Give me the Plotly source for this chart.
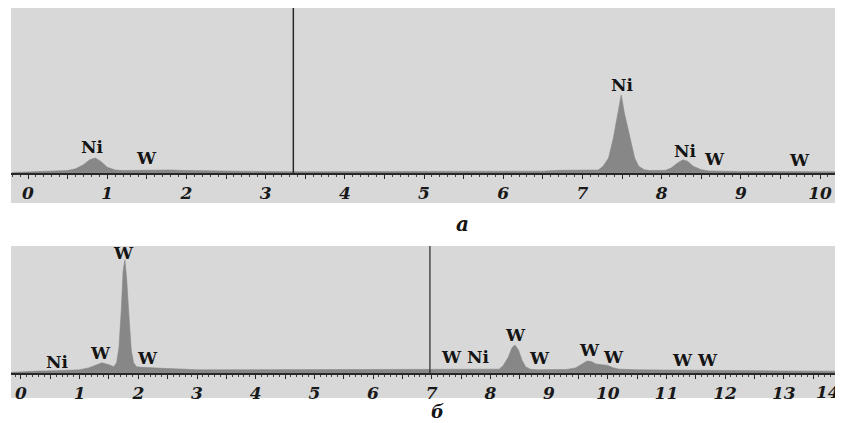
import plotly.graph_objects as go

# ---------------- data ----------------
energy_a = [-0.2, 0.0, 0.2, 0.4, 0.5, 0.6, 0.7, 0.78, 0.85, 0.92,
            1.0, 1.1, 1.2, 1.4, 1.6, 1.8, 2.0, 2.2, 2.4, 2.6,
            3.0, 3.5, 4.0, 4.5, 5.0, 5.5, 6.0, 6.5, 6.7, 7.0,
            7.2, 7.26, 7.33, 7.39, 7.44, 7.49, 7.53, 7.6, 7.66, 7.71,
            7.78, 7.85, 7.95, 8.05, 8.12, 8.2, 8.27, 8.33, 8.4, 8.5,
            8.6, 8.8, 9.0, 9.5, 9.8, 10.0, 10.3]
counts_a = [0.3, 0.6, 0.8, 1.0, 1.5, 2.5, 5, 8, 9, 7,
            3.5, 1.8, 1.5, 1.6, 1.8, 1.8, 1.5, 1.3, 1.2, 1.0,
            0.9, 0.8, 0.8, 0.8, 0.9, 0.9, 1.0, 1.1, 1.6, 1.6,
            1.8, 4, 9, 21, 34, 47, 36, 21, 9, 4,
            2, 1.5, 1.4, 1.6, 3, 6, 8, 7, 4, 2,
            1.2, 1.0, 0.9, 0.9, 1.0, 0.8, 0.7]

energy_b = [-0.17, 0.0, 0.3, 0.6, 0.85, 1.0, 1.15, 1.25, 1.38, 1.5,
            1.58, 1.63, 1.67, 1.71, 1.74, 1.77, 1.80, 1.84, 1.88, 1.92,
            1.97, 2.05, 2.2, 2.5, 2.8, 3.0, 3.5, 4.0, 5.0, 6.0,
            6.5, 7.0, 7.5, 8.0, 8.15, 8.22, 8.3, 8.37, 8.42, 8.48,
            8.54, 8.6, 8.68, 8.8, 9.0, 9.3, 9.45, 9.55, 9.65, 9.72,
            9.8, 9.9, 10.0, 10.1, 10.2, 10.5, 11.0, 11.3, 11.7, 12.0,
            13.0, 14.0]
counts_b = [0.5, 1.0, 1.5, 1.8, 2.5, 2.5, 4, 5.5, 8, 6.5,
            5, 8, 20, 50, 80, 89, 75, 45, 18, 8,
            5, 4.5, 4, 3.5, 3.0, 2.5, 2.5, 2.5, 2.5, 2.5,
            2.8, 2.5, 2.5, 2.5, 3, 6, 12, 20, 22, 18,
            10, 5, 3, 2.5, 2.5, 2.8, 4, 7, 9.5, 9,
            7, 6.5, 6, 4, 3, 2.5, 2.2, 2.5, 2.2, 2.0,
            1.6, 1.4]

peak_text_a = ["Ni", "W", "Ni", "Ni", "W", "W"]
peak_x_a = [0.81, 1.5, 7.5, 8.3, 8.67, 9.74]
peak_y_a = [15.7, 9.0, 53.0, 13.3, 8.4, 7.8]

peak_text_b = ["Ni", "W", "W", "W", "W", "Ni", "W", "W", "W", "W", "W", "W"]
peak_x_b = [0.63, 1.35, 1.74, 2.15, 7.34, 7.79, 8.42, 8.84, 9.69, 10.1, 11.28, 11.7]
peak_y_b = [8.7, 15.7, 94.7, 11.8, 12.6, 12.6, 29.9, 11.8, 18.1, 12.6, 10.2, 10.2]

tick_labels_a = [str(i) for i in range(0, 11)]
tick_labels_b = [str(i) for i in range(0, 15)]

cursor_a = 3.35
cursor_b = 6.97

panel_labels = ["а", "б"]

# ---------------- figure ----------------
OFF = 8                       # page body margin
W, H = 843 - OFF, 423 - OFF
BG = "rgb(216,216,216)"
FILL = "rgb(135,135,135)"
DARK = "rgb(40,40,40)"

def px_x(p):
    return max(0.0, (p - OFF) / W)

def px_y(p):
    return min(1.0, 1 - (p - OFF) / H)

# top panel: 166 px per 100 units; visible top clipped at page offset
top_axis_px, top_px = 173, max(7, OFF)
ytop_a = 100 * (top_axis_px - top_px) / 166

fig = go.Figure()

fig.add_trace(go.Scatter(x=energy_a, y=counts_a, mode="lines", fill="tozeroy",
                         line=dict(color=FILL, width=0.6), fillcolor=FILL,
                         xaxis="x", yaxis="y", hoverinfo="skip", showlegend=False))
fig.add_trace(go.Scatter(x=energy_b, y=counts_b, mode="lines", fill="tozeroy",
                         line=dict(color=FILL, width=0.6), fillcolor=FILL,
                         xaxis="x2", yaxis="y2", hoverinfo="skip", showlegend=False))

def tick_setup(labels):
    vals, texts = [], []
    for lab in labels:
        vals.append(float(lab))
        texts.append(lab)
        vals.append(float(lab) + 0.5)
        texts.append("")
    return vals, texts

tv_a, tt_a = tick_setup(tick_labels_a)
tv_b, tt_b = tick_setup(tick_labels_b)

tickfont = dict(family="DejaVu Serif", size=17, color="rgb(25,25,25)", style="italic", weight="bold")

common_x = dict(showgrid=False, zeroline=False, showline=True, linecolor=DARK, linewidth=1.6,
                ticks="outside", ticklen=4, tickwidth=1, tickcolor=DARK,
                minor=dict(dtick=0.1, ticklen=2, tickwidth=1, tickcolor="rgb(70,70,70)", ticks="outside", showgrid=False),
                tickfont=tickfont, fixedrange=True, tickmode="array")

fig.update_layout(
    width=W, height=H,
    margin=dict(l=0, r=0, t=0, b=0),
    paper_bgcolor="white",
    plot_bgcolor="rgba(0,0,0,0)",
    xaxis=dict(domain=[px_x(11), 1], range=[-0.2146, 10.29], anchor="y",
               tickvals=tv_a, ticktext=tt_a, **common_x),
    yaxis=dict(domain=[px_y(top_axis_px), px_y(top_px)], range=[0, ytop_a], visible=False, anchor="x"),
    xaxis2=dict(domain=[px_x(11), 1], range=[-0.17, 14.01], anchor="y2",
                tickvals=tv_b, ticktext=tt_b, **common_x),
    yaxis2=dict(domain=[px_y(373), px_y(246)], range=[0, 100], visible=False, anchor="x2"),
)

# gray panels
fig.add_shape(type="rect", xref="paper", yref="paper", x0=px_x(11), x1=1,
              y0=px_y(203), y1=px_y(7), fillcolor=BG, line=dict(width=0), layer="below")
fig.add_shape(type="rect", xref="paper", yref="paper", x0=px_x(11), x1=1,
              y0=px_y(398), y1=px_y(246), fillcolor=BG, line=dict(width=0), layer="below")

# cursor lines
fig.add_shape(type="line", xref="x", yref="y domain", x0=cursor_a, x1=cursor_a, y0=0, y1=1,
              line=dict(color=DARK, width=1.5))
fig.add_shape(type="line", xref="x2", yref="y2 domain", x0=cursor_b, x1=cursor_b, y0=0, y1=1,
              line=dict(color=DARK, width=1.2))

# last tick label of the lower axis sits at the right edge (cut in the original)
fig.add_annotation(x=float(tick_labels_b[-1]), y=px_y(392), xref="x2", yref="paper",
                   text=tick_labels_b[-1], showarrow=False, font=tickfont,
                   xanchor="right", yanchor="middle")

labfont = dict(family="DejaVu Serif", size=17, color="rgb(20,20,20)", weight="bold")
for t, x, y in zip(peak_text_a, peak_x_a, peak_y_a):
    fig.add_annotation(x=x, y=y, xref="x", yref="y", text=t, showarrow=False,
                       font=labfont, xanchor="center", yanchor="middle")
for t, x, y in zip(peak_text_b, peak_x_b, peak_y_b):
    fig.add_annotation(x=x, y=y, xref="x2", yref="y2", text=t, showarrow=False,
                       font=labfont, xanchor="center", yanchor="middle")

panfont_a = dict(family="DejaVu Serif", size=20, color="rgb(20,20,20)", style="italic", weight="bold")
panfont_b = dict(family="DejaVu Serif", size=18, color="rgb(20,20,20)", style="italic", weight="bold")
fig.add_annotation(x=px_x(462), y=px_y(224), xref="paper", yref="paper", text=panel_labels[0],
                   showarrow=False, font=panfont_a, xanchor="center", yanchor="middle")
fig.add_annotation(x=px_x(438), y=px_y(411), xref="paper", yref="paper", text=panel_labels[1],
                   showarrow=False, font=panfont_b, xanchor="center", yanchor="middle")

fig.write_html("out.html")
